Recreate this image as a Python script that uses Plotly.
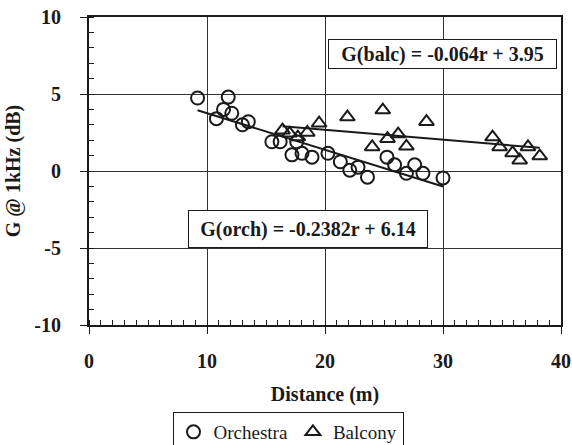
import plotly.graph_objects as go

# Orchestra seats: distance (m) and strength G at 1 kHz (dB)
orch_r = [9.2, 11.8, 11.4, 10.8, 12.1, 13.0, 13.5, 15.5, 16.2, 17.2, 18.05, 18.9,
          20.25, 21.3, 22.1, 22.8, 23.6, 25.25, 25.9, 26.9, 27.6, 28.3, 30.0, 17.6]
orch_g = [4.74, 4.8, 4.0, 3.4, 3.75, 3.0, 3.2, 1.9, 1.9, 1.05, 1.15, 0.9,
          1.15, 0.6, 0.05, 0.25, -0.4, 0.9, 0.4, -0.15, 0.4, -0.15, -0.45, 1.9]

# Balcony seats
balc_r = [16.4, 17.0, 17.7, 18.5, 19.5, 21.9, 24.9, 28.6, 24.0, 25.3, 26.2, 26.9,
          34.2, 34.8, 35.9, 36.5, 37.2, 38.2]
balc_g = [2.65, 2.45, 2.2, 2.5, 3.1, 3.5, 3.96, 3.2, 1.56, 2.1, 2.4, 1.6,
          2.2, 1.56, 1.17, 0.7, 1.56, 0.97]

# Linear fits
orch_slope, orch_icpt = -0.2382, 6.14
balc_slope, balc_icpt = -0.064, 3.95

x_ticks = [0, 10, 20, 30, 40]
y_ticks = [-10, -5, 0, 5, 10]
y_tick_text = ["-10", "-5", "0", "5", "10"]

SERIF = "Liberation Serif, Times New Roman, serif"
INK = "#1a1a1a"

def fit_line(xs, slope, icpt):
    x0, x1 = min(xs), max(xs)
    return [x0, x1], [slope * x0 + icpt, slope * x1 + icpt]

fig = go.Figure()

for xs, slope, icpt in [(orch_r, orch_slope, orch_icpt), (balc_r, balc_slope, balc_icpt)]:
    lx, ly = fit_line(xs, slope, icpt)
    fig.add_trace(go.Scatter(x=lx, y=ly, mode="lines", showlegend=False,
                             line=dict(color=INK, width=2), hoverinfo="skip"))

fig.add_trace(go.Scatter(
    x=orch_r, y=orch_g, mode="markers", name="Orchestra",
    marker=dict(symbol="circle-open", size=13, color=INK, line=dict(width=2))))
fig.add_trace(go.Scatter(
    x=balc_r, y=balc_g, mode="markers", name="Balcony",
    marker=dict(symbol="triangle-up-open", size=13, color=INK, line=dict(width=2))))

bold_font = dict(family=SERIF, size=20, color=INK, weight="bold")

axis_common = dict(
    showline=True, linecolor=INK, linewidth=2, mirror=True,
    showgrid=True, gridcolor="#333333", gridwidth=1,
    ticks="outside", ticklen=7, tickwidth=1, tickcolor=INK,
    tickfont=bold_font,
    minor=dict(ticks="inside", dtick=1, ticklen=5, tickwidth=1, tickcolor=INK,
               showgrid=False),
    zeroline=False, automargin=False,
)

fig.update_xaxes(range=[0, 40], tickvals=x_ticks, ticklabelstandoff=10,
                 title=dict(text="Distance (m)", standoff=16, font=bold_font),
                 **axis_common)
fig.update_yaxes(range=[-10, 10], tickvals=y_ticks, ticktext=y_tick_text,
                 ticklabelstandoff=15,
                 title=dict(text="G @ 1kHz (dB)", standoff=8, font=bold_font),
                 **axis_common)

fig.add_annotation(x=29.96, y=7.6, xref="x", yref="y", showarrow=False,
                   text=f"G(balc) = {balc_slope:g}r + {balc_icpt:g}",
                   font=bold_font, width=223, height=24,
                   bgcolor="white", bordercolor=INK, borderwidth=1, borderpad=2)
fig.add_annotation(x=18.6, y=-3.77, xref="x", yref="y", showarrow=False,
                   text=f"G(orch) = {orch_slope:g}r + {orch_icpt:g}",
                   font=bold_font, width=226, height=24,
                   bgcolor="white", bordercolor=INK, borderwidth=1, borderpad=6)

fig.update_layout(
    width=572, height=445,
    margin=dict(l=89, r=11, t=17, b=120, autoexpand=False),
    paper_bgcolor="white", plot_bgcolor="white",
    showlegend=True,
    legend=dict(orientation="h", x=288 / 572, xref="container", xanchor="center",
                y=1 - 412 / 445, yref="container", yanchor="top",
                bordercolor=INK, borderwidth=1, bgcolor="white",
                font=dict(family=SERIF, size=19, color=INK),
                itemwidth=30, tracegroupgap=0),
)

fig.write_html("out.html")
